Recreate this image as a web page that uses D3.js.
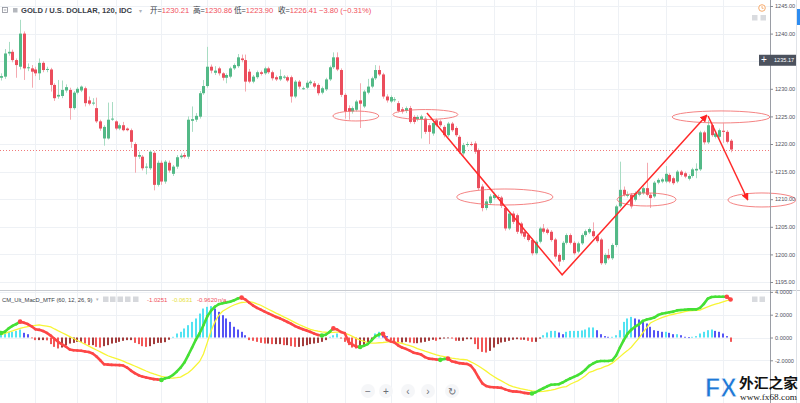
<!DOCTYPE html>
<html><head><meta charset="utf-8">
<script src="https://cdn.jsdelivr.net/npm/d3@7/dist/d3.min.js"></script>
<style>html,body{margin:0;padding:0;background:#fff;overflow:hidden}svg{display:block;font-family:"Liberation Sans",Arial,sans-serif}</style>
</head><body><svg id="chart" width="800" height="403"></svg>
<script>
// ---------- DATA ----------
const opens=[
1232.0,1232.2,1236.4,1236.7,1235.2,1234.0,1240.0,1233.8,1233.7,1233.5,
1232.8,1234.7,1233.5,1233.5,1230.7,1228.6,1228.7,1229.7,1229.8,1226.5,
1229.3,1229.7,1230.1,1227.9,1227.4,1226.5,1224.1,1221.0,1221.0,1224.45,
1224.1,1222.8,1223.4,1222.8,1222.5,1220.0,1217.7,1217.7,1215.8,1215.6,
1218.4,1212.6,1216.6,1213.2,1216.6,1214.6,1215.9,1217.6,1218.0,1217.7,
1224.2,1224.4,1224.95,1229.2,1230.5,1234.0,1232.9,1233.7,1232.8,1232.0,
1232.2,1233.7,1234.1,1235.5,1235.2,1233.1,1231.3,1232.1,1233.0,1232.8,
1233.7,1233.0,1232.1,1231.7,1232.1,1232.1,1232.1,1228.6,1231.3,1230.0,
1230.2,1231.0,1231.0,1230.7,1229.3,1229.9,1231.7,1233.9,1235.7,1233.4,
1228.9,1226.5,1225.9,1226.2,1227.9,1226.8,1229.3,1230.4,1231.9,1233.4,
1232.6,1228.6,1227.7,1228.0,1227.4,1226.3,1226.0,1226.5,1224.9,1224.5,
1224.5,1224.6,1223.4,1221.9,1224.3,1224.1,1223.1,1221.6,1223.7,1222.9,
1221.3,1218.3,1219.9,1220.0,1220.1,1218.9,1212.3,1208.4,1209.3,1210.2,
1210.4,1210.3,1208.4,1204.7,1207.4,1207.1,1205.6,1204.1,1203.5,1202.6,
1200.2,1202.3,1204.7,1204.5,1204.1,1202.7,1199.9,1199.0,1202.1,1203.5,
1202.1,1200.5,1202.0,1203.5,1204.0,1204.2,1203.3,1202.7,1198.4,1199.9,
1199.3,1201.7,1208.7,1211.7,1210.6,1210.8,1209.9,1210.8,1211.1,1212.0,
1210.8,1210.5,1213.0,1213.2,1213.2,1214.4,1213.8,1213.2,1215.0,1214.7,
1213.7,1214.2,1215.2,1215.4,1222.1,1220.3,1223.4,1221.3,1221.3,1222.4,
1222.2,1220.6];
const highs=[
1232.8,1237.2,1238.5,1237.1,1235.5,1242.5,1240.4,1234.6,1234.3,1234.0,
1235.5,1235.0,1234.0,1233.8,1231.0,1231.6,1231.5,1230.8,1230.2,1229.6,
1230.3,1230.6,1230.4,1228.6,1228.3,1228.4,1224.4,1223.4,1227.5,1227.6,
1224.3,1223.7,1224.0,1223.0,1222.8,1220.3,1218.6,1218.0,1216.5,1218.9,
1218.7,1217.0,1217.0,1217.1,1217.0,1216.2,1218.0,1218.3,1218.4,1225.0,
1226.8,1225.6,1229.6,1231.6,1237.6,1234.4,1234.1,1234.0,1233.0,1232.8,
1234.0,1234.6,1236.3,1236.2,1236.2,1233.6,1232.5,1233.3,1233.3,1234.0,
1234.0,1233.3,1232.4,1233.5,1232.5,1232.4,1232.4,1231.6,1231.6,1230.4,
1231.5,1231.6,1231.4,1231.0,1230.4,1232.0,1234.2,1236.6,1236.6,1233.7,
1229.2,1227.0,1226.8,1228.0,1231.0,1229.8,1231.8,1232.2,1234.3,1234.2,
1232.9,1229.0,1228.8,1228.5,1227.8,1226.7,1226.8,1226.9,1225.2,1225.2,
1225.3,1225.0,1223.8,1224.1,1224.6,1224.4,1223.4,1224.0,1224.0,1223.2,
1221.6,1220.2,1220.4,1220.4,1220.5,1219.2,1212.7,1210.0,1210.9,1211.2,
1210.8,1210.6,1208.7,1207.8,1207.8,1207.4,1205.9,1204.4,1203.8,1202.9,
1202.6,1205.0,1205.5,1204.8,1204.4,1203.0,1200.2,1202.4,1203.8,1203.8,
1202.4,1202.3,1203.8,1204.5,1204.9,1205.8,1203.6,1203.0,1200.2,1201.0,
1202.0,1209.0,1216.8,1212.3,1211.4,1211.1,1211.4,1211.7,1212.3,1216.6,
1211.1,1213.3,1213.8,1213.9,1216.0,1214.7,1214.1,1215.3,1215.3,1215.0,
1214.5,1215.7,1216.5,1222.4,1222.4,1224.3,1223.7,1222.2,1222.8,1223.75,
1222.5,1220.9];
const lows=[
1231.5,1231.8,1236.0,1234.8,1232.0,1233.5,1231.6,1233.2,1230.2,1232.3,
1231.6,1233.0,1233.0,1229.5,1227.8,1228.2,1228.3,1229.3,1224.4,1226.2,
1229.0,1229.4,1226.8,1227.0,1227.0,1223.8,1222.4,1219.7,1220.8,1224.2,
1222.5,1222.5,1222.3,1222.3,1219.3,1214.8,1217.3,1215.2,1214.5,1215.3,
1211.6,1212.3,1212.6,1212.8,1214.8,1214.2,1215.5,1217.3,1217.4,1217.3,
1222.2,1224.0,1224.6,1228.9,1230.2,1232.8,1232.5,1232.4,1231.5,1231.0,
1231.9,1233.4,1233.8,1234.8,1229.5,1231.0,1231.0,1231.8,1232.4,1232.5,
1232.7,1231.5,1231.4,1231.4,1231.8,1231.2,1227.5,1228.3,1230.0,1229.8,
1229.9,1230.7,1230.1,1228.8,1229.0,1229.6,1231.4,1233.6,1233.2,1228.5,
1224.6,1224.4,1225.5,1225.9,1222.9,1226.5,1229.0,1230.1,1231.6,1232.3,
1228.2,1227.5,1227.4,1227.6,1225.7,1225.5,1225.6,1223.7,1223.6,1224.1,
1221.0,1221.8,1220.0,1221.5,1223.1,1223.1,1221.2,1221.3,1222.2,1221.3,
1218.2,1217.9,1219.5,1219.6,1218.2,1211.6,1207.8,1208.0,1209.0,1209.9,
1210.0,1208.4,1204.3,1204.4,1205.5,1203.7,1203.4,1202.8,1202.3,1199.8,
1199.9,1202.0,1203.8,1203.6,1202.3,1199.2,1197.9,1198.7,1201.8,1201.8,
1199.9,1200.2,1201.7,1203.2,1203.7,1203.0,1202.1,1198.1,1198.1,1199.0,
1199.0,1201.3,1208.4,1210.5,1210.3,1208.3,1209.6,1210.5,1210.8,1210.5,
1208.4,1210.2,1212.7,1212.9,1212.9,1212.9,1212.6,1212.9,1214.1,1213.8,
1213.4,1213.9,1213.8,1215.1,1219.9,1220.0,1221.3,1221.0,1221.0,1220.2,
1220.1,1218.5];
const closes=[
1232.3,1236.4,1236.7,1235.2,1234.3,1240.0,1233.7,1233.9,1233.1,1232.8,
1234.7,1233.4,1233.6,1230.7,1228.3,1228.9,1229.8,1230.3,1226.5,1229.3,
1230.0,1230.4,1227.4,1227.3,1227.5,1224.1,1222.8,1223.1,1224.4,1224.6,
1222.8,1223.4,1222.5,1222.5,1220.4,1217.7,1218.0,1215.6,1215.9,1218.6,
1212.6,1216.6,1213.2,1216.8,1215.2,1215.9,1217.6,1217.9,1217.7,1224.4,
1224.5,1225.1,1229.2,1230.5,1234.0,1233.3,1233.3,1232.8,1232.0,1232.5,
1233.7,1234.3,1235.7,1235.2,1231.3,1231.3,1232.2,1233.0,1232.7,1233.7,
1233.0,1231.9,1231.7,1232.3,1232.2,1231.5,1228.6,1231.3,1230.4,1230.1,
1231.1,1231.3,1230.4,1229.2,1230.1,1231.7,1233.9,1235.7,1233.5,1228.9,
1225.9,1225.9,1226.5,1227.7,1227.3,1229.5,1230.4,1231.9,1233.4,1232.6,
1228.6,1227.9,1228.5,1228.1,1226.0,1225.9,1226.5,1224.0,1224.0,1224.9,
1225.0,1222.2,1222.2,1223.8,1223.4,1223.4,1221.6,1223.7,1222.5,1221.6,
1218.6,1219.8,1220.0,1219.9,1218.6,1212.0,1208.4,1209.6,1210.5,1210.8,
1210.3,1208.8,1204.7,1207.4,1205.9,1204.1,1203.8,1203.2,1202.6,1200.2,
1202.3,1204.7,1204.1,1203.9,1202.6,1199.6,1198.7,1202.1,1203.5,1202.1,
1200.2,1202.0,1203.5,1204.2,1204.6,1203.3,1202.4,1198.4,1199.9,1199.3,
1201.7,1208.7,1211.7,1210.8,1210.9,1208.7,1211.1,1211.4,1212.0,1210.8,
1210.2,1213.0,1213.5,1213.6,1214.6,1213.2,1212.9,1215.0,1214.4,1214.1,
1214.2,1215.4,1215.5,1222.1,1220.3,1223.4,1221.6,1221.9,1222.5,1222.2,
1220.4,1219.0];
const macdLine=[
0.40,0.50,0.80,1.02,1.18,1.39,1.30,1.18,0.98,0.72,
0.67,0.57,0.40,0.17,-0.12,-0.40,-0.61,-0.81,-1.05,-1.12,
-1.14,-1.16,-1.22,-1.28,-1.40,-1.67,-2.00,-2.35,-2.38,-2.40,
-2.41,-2.42,-2.46,-2.64,-2.90,-3.12,-3.31,-3.43,-3.51,-3.58,
-3.65,-3.68,-3.72,-3.58,-3.50,-3.29,-3.00,-2.65,-2.20,-1.56,
-0.90,-0.20,0.37,1.08,1.85,2.36,2.70,2.92,3.00,3.08,
3.14,3.26,3.42,3.50,3.33,3.05,2.80,2.60,2.44,2.27,
2.12,1.96,1.80,1.68,1.52,1.36,1.19,1.00,0.85,0.73,
0.61,0.49,0.34,0.22,0.17,0.24,0.48,0.80,0.70,0.48,
0.38,-0.40,-0.62,-0.80,-0.83,-0.73,-0.58,-0.25,0.10,0.28,
0.33,-0.20,-0.34,-0.44,-0.70,-0.88,-1.00,-1.15,-1.33,-1.40,
-1.50,-1.72,-1.85,-1.89,-1.93,-1.96,-1.88,-1.85,-2.08,-2.16,
-2.25,-2.29,-2.32,-2.48,-2.90,-3.50,-4.02,-4.25,-4.34,-4.37,
-4.38,-4.42,-4.55,-4.66,-4.73,-4.75,-4.78,-4.86,-4.90,-4.91,
-4.80,-4.62,-4.45,-4.28,-4.15,-4.12,-4.10,-3.95,-3.76,-3.60,
-3.45,-3.30,-3.10,-2.82,-2.48,-2.28,-2.12,-2.06,-2.06,-2.06,
-2.00,-1.60,-0.90,-0.25,0.33,0.68,0.95,1.15,1.45,1.57,
1.64,1.75,1.97,2.09,2.15,2.21,2.27,2.38,2.41,2.43,
2.47,2.47,2.47,2.60,2.95,3.40,3.55,3.58,3.58,3.58,
3.58,3.33];
const signalLine=[
0.24,0.36,0.47,0.58,0.70,0.81,0.88,0.96,1.02,1.06,
1.10,1.05,1.00,0.93,0.75,0.58,0.42,0.25,0.08,-0.09,
-0.26,-0.42,-0.59,-0.76,-0.93,-1.10,-1.26,-1.43,-1.60,-1.73,
-1.84,-1.95,-2.08,-2.22,-2.35,-2.50,-2.65,-2.79,-2.94,-3.08,
-3.20,-3.31,-3.41,-3.48,-3.56,-3.56,-3.52,-3.47,-3.28,-3.09,
-2.80,-2.45,-2.10,-1.45,-0.45,0.60,1.37,1.95,2.30,2.50,
2.70,2.85,2.97,3.07,3.10,3.14,3.08,2.95,2.83,2.65,
2.48,2.31,2.14,1.98,1.81,1.65,1.48,1.31,1.14,0.99,
0.85,0.71,0.62,0.55,0.49,0.46,0.43,0.45,0.48,0.48,
0.38,0.26,0.10,-0.08,-0.22,-0.33,-0.45,-0.50,-0.49,-0.46,
-0.44,-0.40,-0.37,-0.40,-0.45,-0.52,-0.63,-0.72,-0.82,-0.98,
-1.08,-1.20,-1.30,-1.42,-1.53,-1.62,-1.68,-1.75,-1.81,-1.86,
-1.90,-1.93,-1.97,-2.14,-2.30,-2.50,-2.72,-2.95,-3.20,-3.42,
-3.63,-3.80,-3.99,-4.17,-4.30,-4.40,-4.48,-4.55,-4.62,-4.68,
-4.72,-4.75,-4.72,-4.67,-4.62,-4.55,-4.45,-4.35,-4.30,-4.10,
-3.95,-3.80,-3.60,-3.35,-3.05,-2.95,-2.80,-2.70,-2.55,-2.45,
-2.25,-1.98,-1.70,-1.40,-1.15,-0.85,-0.45,-0.05,0.40,0.85,
1.27,1.45,1.60,1.74,1.85,1.96,2.04,2.12,2.19,2.26,
2.33,2.37,2.39,2.41,2.55,2.69,2.82,2.93,3.02,3.13,
3.24,3.33];
const histogram=[
0.35,0.45,0.50,0.50,0.58,0.70,0.41,0.29,-0.05,-0.23,
-0.23,-0.23,-0.25,-0.58,-0.82,-0.96,-0.88,-0.67,-0.53,-0.47,
-0.38,-0.38,-0.53,-0.67,-0.67,-0.82,-0.88,-0.76,-0.67,-0.53,
-0.47,-0.38,-0.29,-0.23,-0.23,-0.47,-0.58,-0.76,-0.82,-0.76,
-0.58,-0.47,-0.47,-0.41,-0.20,0.06,0.35,0.50,0.79,1.08,
1.37,1.67,2.10,2.54,2.69,2.75,2.54,2.25,1.96,1.67,
1.37,0.94,0.70,0.50,0.20,-0.23,-0.29,-0.38,-0.47,-0.53,
-0.53,-0.58,-0.58,-0.58,-0.67,-0.67,-0.76,-0.82,-0.82,-0.76,
-0.67,-0.58,-0.53,-0.47,-0.38,-0.23,0.06,0.20,0.35,-0.09,
-0.38,-0.67,-0.88,-0.96,-0.88,-0.67,-0.47,-0.23,0.35,0.50,
0.35,0.12,-0.23,-0.38,-0.53,-0.44,-0.38,-0.44,-0.50,-0.50,
-0.44,-0.38,-0.29,-0.20,-0.29,-0.15,-0.09,-0.06,-0.09,-0.29,
-0.29,-0.29,-0.15,-0.15,-0.58,-1.02,-1.26,-1.32,-1.17,-0.88,
-0.58,-0.44,-0.38,-0.29,-0.20,-0.15,-0.20,-0.20,-0.29,-0.38,
-0.38,-0.09,0.20,0.44,0.58,0.58,0.44,0.29,0.50,0.58,
0.58,0.58,0.62,0.70,0.88,0.88,0.64,0.29,0.12,0.06,
0.06,0.20,0.64,1.37,1.67,1.81,1.67,1.58,1.46,1.23,
0.94,0.64,0.58,0.50,0.50,0.41,0.29,0.29,0.20,0.06,
0.02,0.06,0.12,0.35,0.50,0.64,0.70,0.58,0.50,0.35,
0.12,-0.38];
const priceTicks=[1195,1200,1205,1210,1215,1220,1225,1230,1235,1240,1245];
const macdTicks=[-2,0,2,4];
const timeGridIdx=[9,20,30,42,54,69,80,90,102,114,129,140,150,161.5,174,189];
const crosshairPrice=1235.17;
// annotations in data units: [candle index, price]
const ellipseCenters=[[92.9,1225.07],[111.1,1225.34],[131.9,1210.4],[169,1209.95],[188.5,1224.9],[199.2,1209.86]];
const ellipseRadii=[[6,0.9],[8.5,0.9],[12.6,1.45],[7.7,1.18],[12.8,1.09],[8.9,1.27]];
const trendPath1=[[111.5,1225.6],[146.9,1196.3],[184.8,1225.25]];
const trendPath2=[[185.1,1225.07],[195.5,1209.86]];
const headerTitle="GOLD / U.S. DOLLAR, 120, IDC";
const headerLabels=["开","高","低","收"];
const headerValues=["1230.21","1230.86","1223.90","1226.41"];
const headerChange="−3.80 (−0.31%)";
const macdTitle="CM_Ult_MacD_MTF (60, 12, 26, 9)";
const macdLegendValues=["-1.0251","-0.0631","-0.9620","n/a"];

// ---------- CHART ----------
const W=800,H=403,AX=770;
const svg=d3.select('#chart');
const n=closes.length;
const x=d3.scaleLinear().domain([0,191]).range([1,730.6]);
const y=d3.scaleLinear().domain([1195,1245]).range([282,6]);
const ym=d3.scaleLinear().domain([-2,4]).range([360.3,291.9]);

const defs=svg.append('defs');
defs.append('clipPath').attr('id','clipP').append('rect').attr('x',0).attr('y',0).attr('width',AX).attr('height',290);
defs.append('clipPath').attr('id','clipM').append('rect').attr('x',0).attr('y',291).attr('width',AX).attr('height',H-291);
defs.append('clipPath').attr('id','clipAll').append('rect').attr('x',0).attr('y',0).attr('width',798).attr('height',290);
const mk=defs.append('marker').attr('id','arrow').attr('viewBox','0 0 10 10').attr('refX',9).attr('refY',5)
  .attr('markerWidth',5).attr('markerHeight',5).attr('orient','auto');
mk.append('path').attr('d','M0,0L10,5L0,10z').attr('fill','#ff2323');

svg.append('rect').attr('width',W).attr('height',H).attr('fill','#fff');

// grid
const gGrid=svg.append('g');
gGrid.append('g').selectAll('line').data(priceTicks).join('line')
  .attr('x1',0).attr('x2',AX).attr('y1',d=>Math.round(y(d))+.5).attr('y2',d=>Math.round(y(d))+.5)
  .attr('stroke','#eef1f5');
gGrid.append('g').selectAll('line').data(macdTicks).join('line')
  .attr('x1',0).attr('x2',AX).attr('y1',d=>Math.round(ym(d))+.5).attr('y2',d=>Math.round(ym(d))+.5)
  .attr('stroke','#eef1f5');
gGrid.append('g').selectAll('line').data(timeGridIdx).join('line')
  .attr('x1',d=>Math.round(x(d))+.5).attr('x2',d=>Math.round(x(d))+.5).attr('y1',0).attr('y2',H)
  .attr('stroke','#eef1f5');

// panel separator
svg.append('line').attr('x1',0).attr('x2',W).attr('y1',290.5).attr('y2',290.5).attr('stroke','#c8cbd1');

// last price dotted line
svg.append('line').attr('x1',0).attr('x2',AX).attr('y1',Math.round(y(closes[n-1]))+.5).attr('y2',Math.round(y(closes[n-1]))+.5)
  .attr('stroke','#f07a7a').attr('stroke-dasharray','1,2');

// candles
const idx=d3.range(n);
const gC=svg.append('g').attr('clip-path','url(#clipP)');
const up=i=>closes[i]>=opens[i];
gC.append('g').selectAll('line').data(idx).join('line')
  .attr('x1',i=>Math.round(x(i))+.5).attr('x2',i=>Math.round(x(i))+.5)
  .attr('y1',i=>y(highs[i])).attr('y2',i=>y(lows[i]))
  .attr('stroke',i=>up(i)?'#a8dcc3':'#f4a9b0').attr('stroke-width',1);
gC.append('g').selectAll('rect').data(idx).join('rect')
  .attr('x',i=>Math.round(x(i))-1).attr('width',3)
  .attr('y',i=>y(Math.max(opens[i],closes[i])))
  .attr('height',i=>Math.max(1,Math.abs(y(opens[i])-y(closes[i]))))
  .attr('fill',i=>up(i)?'#53b987':'#eb4d5c');

// annotations
const gA=svg.append('g').attr('clip-path','url(#clipAll)');
gA.selectAll('ellipse').data(ellipseCenters).join('ellipse')
  .attr('cx',d=>x(d[0])).attr('cy',d=>y(d[1]))
  .attr('rx',(d,k)=>x(ellipseRadii[k][0])-x(0)).attr('ry',(d,k)=>y(1195)-y(1195+ellipseRadii[k][1]))
  .attr('fill','none').attr('stroke','#f26d6d').attr('stroke-width',1).attr('opacity',0.85);
const ln=d3.line().x(d=>x(d[0])).y(d=>y(d[1]));
gA.append('path').attr('d',ln(trendPath1)).attr('fill','none').attr('stroke','#ff2a2a').attr('stroke-width',1.5)
  .attr('marker-end','url(#arrow)');
gA.append('path').attr('d',ln(trendPath2)).attr('fill','none').attr('stroke','#ff2a2a').attr('stroke-width',1.5)
  .attr('marker-end','url(#arrow)');

// MACD panel
const gM=svg.append('g').attr('clip-path','url(#clipM)');
const hCol=i=>{const v=histogram[i],p=i>0?histogram[i-1]:v;
  return v>0?(v>=p?'#52e3f2':'#5454f5'):(v<p?'#f25656':'#a23b3b');};
gM.append('g').selectAll('rect').data(idx).join('rect')
  .attr('x',i=>Math.round(x(i))-1).attr('width',2)
  .attr('y',i=>Math.min(ym(histogram[i]),ym(0)))
  .attr('height',i=>Math.max(0.8,Math.abs(ym(histogram[i])-ym(0))))
  .attr('fill',hCol);
gM.append('path').attr('d',d3.line().x((d,i)=>x(i)).y(d=>ym(d))(signalLine))
  .attr('fill','none').attr('stroke','#f7f535').attr('stroke-width',1.3);
const segs=d3.range(n-1).map(i=>({i,c:macdLine[i+1]>=macdLine[i]?'#45e035':'#fd4646'}));
gM.append('g').selectAll('line').data(segs).join('line')
  .attr('x1',d=>x(d.i)).attr('x2',d=>x(d.i+1)).attr('y1',d=>ym(macdLine[d.i])).attr('y2',d=>ym(macdLine[d.i+1]))
  .attr('stroke',d=>d.c).attr('stroke-width',2.6).attr('stroke-linecap','round');
const dots=segs.filter((d,k)=>k===0||segs[k-1].c!==d.c);
gM.append('g').selectAll('circle').data(dots).join('circle')
  .attr('cx',d=>x(d.i)).attr('cy',d=>ym(macdLine[d.i])).attr('r',2.3).attr('fill',d=>d.c);
gM.append('circle').attr('cx',x(n-1)).attr('cy',ym(macdLine[n-1])).attr('r',2.3).attr('fill','#fd4646');

// axes
svg.append('line').attr('x1',AX+.5).attr('x2',AX+.5).attr('y1',0).attr('y2',H).attr('stroke','#9a9da5');
const ap=svg.append('g').attr('transform',`translate(${AX},0)`)
  .call(d3.axisRight(y).tickValues(priceTicks).tickSize(3).tickPadding(2).tickFormat(d=>d.toFixed(2)));
const am=svg.append('g').attr('transform',`translate(${AX},0)`)
  .call(d3.axisRight(ym).tickValues(macdTicks).tickSize(3).tickPadding(2).tickFormat(d=>d.toFixed(4)));
[ap,am].forEach(a=>{a.select('.domain').remove();
  a.selectAll('line').attr('stroke','#8a8d95');
  a.selectAll('text').attr('font-size',5.6).attr('fill','#50535e').attr('font-family','"Liberation Sans",Arial');});

// crosshair label
const cy=y(crosshairPrice);
svg.append('rect').attr('x',759).attr('y',cy-5.5).attr('width',37).attr('height',11).attr('fill','#4c525e');
svg.append('text').attr('x',764).attr('y',cy+3.2).attr('font-size',10).attr('fill','#fff').attr('text-anchor','middle').text('+');
svg.append('text').attr('x',774).attr('y',cy+2).attr('font-size',5.6).attr('fill','#fff').text(crosshairPrice.toFixed(2));

// right strip
svg.append('line').attr('x1',796.5).attr('x2',796.5).attr('y1',0).attr('y2',H).attr('stroke','#e0e3e8');
svg.append('rect').attr('x',797).attr('y',9).attr('width',3).attr('height',16).attr('fill','#2d8cf0');

// header legend
const hg=svg.append('g').attr('font-size',7.6);
hg.append('rect').attr('x',2.5).attr('y',7.5).attr('width',5).attr('height',5).attr('fill','none').attr('stroke','#8d9099').attr('stroke-width',0.8);
hg.append('line').attr('x1',3.8).attr('x2',6.3).attr('y1',10).attr('y2',10).attr('stroke','#8d9099').attr('stroke-width',0.8);
hg.append('rect').attr('x',13).attr('y',8).attr('width',4.5).attr('height',4.5).attr('fill','#b4b7bd');
hg.append('text').attr('x',21).attr('y',13.2).attr('fill','#3a3e48').attr('font-weight',600).text(headerTitle);
hg.append('text').attr('x',139).attr('y',12.5).attr('fill','#b0b3b9').attr('font-size',6).text('▾');
const hx=[150,193,234,278];
headerLabels.forEach((l,k)=>{
  const t=hg.append('text').attr('x',hx[k]).attr('y',13.2);
  t.append('tspan').attr('fill','#3a3e48').attr('font-family','"Noto Sans CJK SC"').text(l+'=');
  t.append('tspan').attr('fill','#f0505c').text(headerValues[k]);
});
hg.append('text').attr('x',319).attr('y',13.2).attr('fill','#f0505c').text(headerChange);

// top right icons
svg.append('circle').attr('cx',762).attr('cy',8).attr('r',3.3).attr('fill','#fff').attr('stroke','#f5a25d').attr('stroke-width',0.9);
svg.append('path').attr('d','M762,6 L762,8.3 L763.6,8.3').attr('fill','none').attr('stroke','#f5a25d').attr('stroke-width',0.8);
[[752,15],[760.5,15],[752,296.5],[759.5,296.5]].forEach(p=>svg.append('rect').attr('x',p[0]).attr('y',p[1]).attr('width',5.5).attr('height',5.5).attr('fill','#d9dbdf'));

// MACD legend
const mg=svg.append('g').attr('font-size',5.8);
mg.append('text').attr('x',2).attr('y',301.5).attr('fill','#3a3e48').text(macdTitle);
mg.append('text').attr('x',95.5).attr('y',301).attr('fill','#b0b3b9').attr('font-size',4.5).text('▾');
[103,110,117.5,125,133].forEach(px=>mg.append('rect').attr('x',px).attr('y',296.5).attr('width',5.5).attr('height',5.5).attr('fill','#d6d8dc'));
const mcol=['#f0505c','#e6e03a','#f0505c','#f0505c'];
const mxs=[147,172,197,218];
macdLegendValues.forEach((v,k)=>mg.append('text').attr('x',mxs[k]).attr('y',301.5).attr('fill',mcol[k]).attr('font-size',6).text(v));

// navigation buttons
const navIcons=['−','+','‹','›','↻'];
const navX=[368,386,408,428,452];
navIcons.forEach((c,k)=>{
  svg.append('circle').attr('cx',navX[k]).attr('cy',391).attr('r',7).attr('fill','#f4f5f7').attr('opacity',0.9);
  svg.append('text').attr('x',navX[k]).attr('y',394.5).attr('text-anchor','middle').attr('font-size',10).attr('fill','#6b6e76').text(c);
});

// watermark
svg.append('text').attr('x',705).attr('y',396.5).attr('font-size',28).attr('font-weight','bold')
  .attr('textLength',32).attr('lengthAdjust','spacingAndGlyphs')
  .attr('fill','#1f78d6').attr('stroke','#fff').attr('stroke-width',0.8).text('FX');
svg.append('text').attr('x',739).attr('y',388).attr('font-size',13.5).attr('font-weight','bold')
  .attr('font-family','"Noto Sans CJK SC"').attr('textLength',59).attr('lengthAdjust','spacingAndGlyphs')
  .attr('fill','#111').text('外汇之家');
svg.append('text').attr('x',740).attr('y',400).attr('font-size',8.5).attr('font-family','"Liberation Serif",serif')
  .attr('textLength',57).attr('lengthAdjust','spacingAndGlyphs').attr('fill','#222').text('www.fx68.com');
</script></body></html>
